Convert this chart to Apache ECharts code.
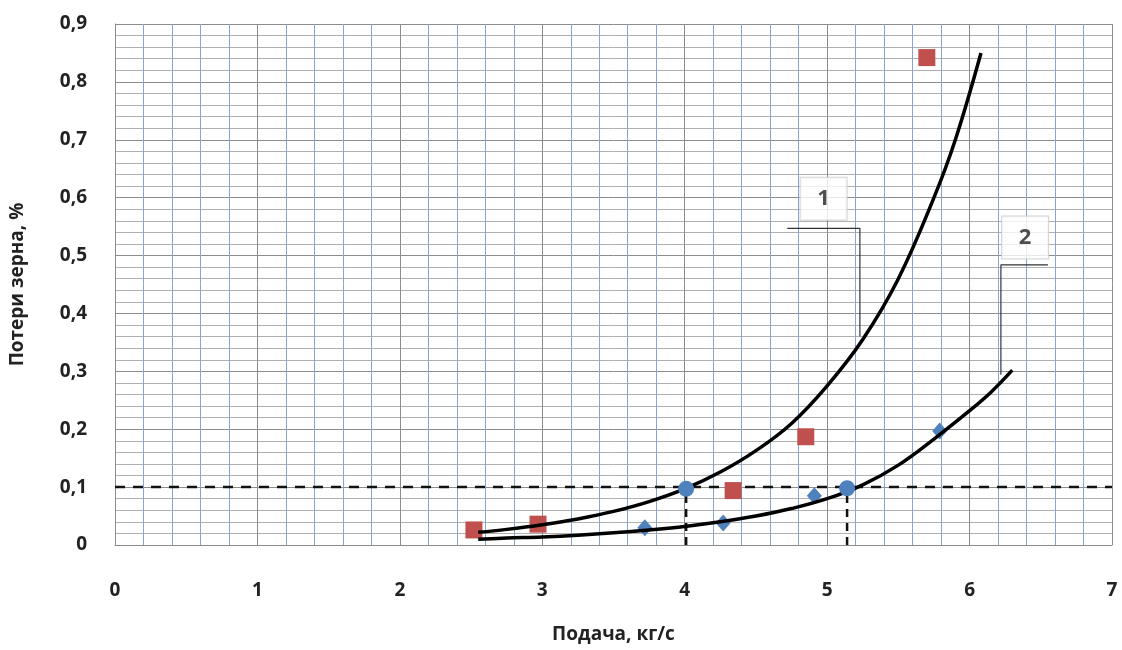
<!DOCTYPE html>
<html><head><meta charset="utf-8">
<script src="https://cdn.jsdelivr.net/npm/echarts@6/dist/echarts.min.js"></script>
<style>html,body{margin:0;padding:0;background:#fff}#c{width:1122px;height:650px}</style>
</head><body><div id="c"></div>
<script>
// Experimental points
const squares = [[2.52,0.026],[2.97,0.036],[4.34,0.094],[4.85,0.187],[5.70,0.842]];
const diamonds = [[3.72,0.030],[4.27,0.038],[4.91,0.085],[5.79,0.197]];
const circles = [[4.01,0.097],[5.14,0.098]];
// Trend curves
const curve1 = [[2.55,0.022],[2.75,0.027],[3.0,0.035],[3.25,0.045],[3.5,0.058],[3.75,0.075],[4.0,0.097],[4.25,0.126],[4.5,0.163],[4.75,0.21],[5.0,0.275],[5.25,0.355],[5.5,0.46],[5.75,0.60],[5.9,0.70],[6.08,0.85]];
const curve2 = [[2.55,0.010],[2.75,0.012],[3.0,0.014],[3.25,0.017],[3.5,0.021],[3.75,0.026],[4.0,0.032],[4.25,0.040],[4.5,0.050],[4.75,0.063],[5.0,0.080],[5.25,0.104],[5.5,0.138],[5.75,0.183],[6.0,0.232],[6.15,0.264],[6.3,0.302]];
// Reference level and its crossings
const level = 0.1;
const crossings = [4.01, 5.14];
// Curve labels
const curveNames = ['1','2'];
const leader1 = [[4.72,0.547],[5.23,0.547],[5.23,0.36]];
const leader2 = [[6.55,0.484],[6.22,0.484],[6.22,0.294]];
const labelPos = [[4.975,0.598],[6.39,0.531]];

const FONT = '"Open Sans", "DejaVu Sans", sans-serif';
const chart = echarts.init(document.getElementById('c'));
const boxLabel = (name, pos) => ({
  type:'scatter', data:[pos], symbolSize:0, z:5,
  label:{show:true, position:'inside', formatter:name, fontFamily:FONT, fontWeight:'bold', fontSize:22, color:'#222',
    backgroundColor:'#fff', borderColor:'#c8c8c8', borderWidth:1, width:46, height:42, lineHeight:52, align:'center', verticalAlign:'middle'}
});
chart.setOption({
  animation:false,
  grid:{left:114, right:10, top:24, bottom:105},
  xAxis:{type:'value', min:0, max:7, interval:1,
    name:'Подача, кг/с', nameLocation:'middle', nameGap:80,
    nameTextStyle:{fontFamily:FONT, fontWeight:'bold', fontSize:19, color:'#222'},
    axisLine:{show:true, lineStyle:{color:'#8c8c8c', width:1}}, axisTick:{show:false},
    axisLabel:{margin:36, fontFamily:FONT, fontWeight:'bold', fontSize:19, color:'#222'},
    splitLine:{show:true, lineStyle:{color:'#8c8c8c', width:1}},
    minorTick:{show:false, splitNumber:5},
    minorSplitLine:{show:true, lineStyle:{color:'#88a4d2', width:1}}},
  yAxis:{type:'value', min:0, max:0.9, interval:0.1,
    name:'Потери зерна, %', nameLocation:'middle', nameGap:88,
    nameTextStyle:{fontFamily:FONT, fontWeight:'bold', fontSize:19, color:'#222'},
    axisLine:{show:true, lineStyle:{color:'#8c8c8c', width:1}}, axisTick:{show:false},
    axisLabel:{margin:28, fontFamily:FONT, fontWeight:'bold', fontSize:19, color:'#222',
      formatter:v=> (Math.round(v*10)/10).toString().replace('.',',')},
    splitLine:{show:true, lineStyle:{color:'#8c8c8c', width:1}},
    minorTick:{show:false, splitNumber:5},
    minorSplitLine:{show:true, lineStyle:{color:'#b0b0b0', width:1}}},
  series:[
    {type:'line', data:[[0,level],[7,level]], symbol:'none', z:3,
      lineStyle:{color:'#111', width:2.5, type:[10,8]}},
    ...crossings.map(x=>({type:'line', data:[[x,0],[x,level]], symbol:'none', z:3,
      lineStyle:{color:'#111', width:2.5, type:[8,6]}})),
    {type:'line', data:leader1, symbol:'none', z:3, lineStyle:{color:'#333', width:1.2}},
    {type:'line', data:leader2, symbol:'none', z:3, lineStyle:{color:'#333', width:1.2}},
    {type:'scatter', data:squares, symbol:'rect', symbolSize:17, z:4, itemStyle:{color:'#c0504d', opacity:1}},
    {type:'scatter', data:diamonds, symbol:'diamond', symbolSize:[15,17], z:4, itemStyle:{color:'#4f81bd', opacity:1}},
    {type:'line', data:curve1, smooth:0.4, symbol:'none', z:5, lineStyle:{color:'#000', width:3.5}},
    {type:'line', data:curve2, smooth:0.4, symbol:'none', z:5, lineStyle:{color:'#000', width:3.5}},
    {type:'scatter', data:circles, symbol:'circle', symbolSize:16, z:6, itemStyle:{color:'#4f81bd', opacity:1}},
    boxLabel(curveNames[0], labelPos[0]),
    boxLabel(curveNames[1], labelPos[1])
  ]
});
</script></body></html>
